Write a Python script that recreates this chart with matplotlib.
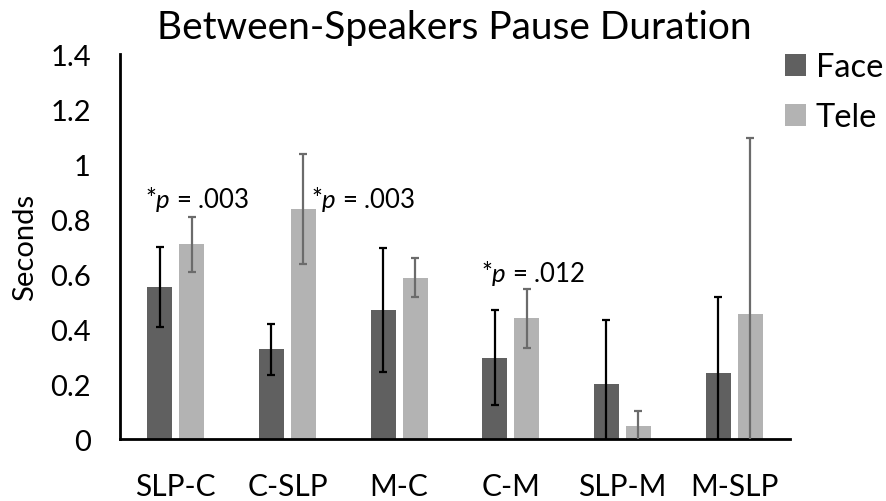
import matplotlib
matplotlib.use('Agg')
import matplotlib.pyplot as plt
import numpy as np

plt.rcParams['font.family'] = ['Lato', 'DejaVu Sans']
plt.rcParams['mathtext.fontset'] = 'custom'
plt.rcParams['mathtext.rm'] = 'Lato'
plt.rcParams['mathtext.it'] = 'Lato:italic'

# data
categories = ['SLP-C', 'C-SLP', 'M-C', 'C-M', 'SLP-M', 'M-SLP']
face = [0.552, 0.327, 0.469, 0.295, 0.200, 0.239]
face_err = [0.145, 0.093, 0.224, 0.173, 0.234, 0.279]
tele = [0.709, 0.835, 0.587, 0.439, 0.046, 0.455]
tele_err = [0.100, 0.200, 0.072, 0.107, 0.057, 0.638]
yticks = [0, 0.2, 0.4, 0.6, 0.8, 1, 1.2, 1.4]
ytick_labels = ['0', '0.2', '0.4', '0.6', '0.8', '1', '1.2', '1.4']
notes = ['*$p$ = .003', '*$p$ = .003', '*$p$ = .012']
note_pos = [(0.19, 0.873), (1.68, 0.873), (3.20, 0.607)]

face_color = '#606060'
tele_color = '#b3b3b3'

fig = plt.figure(figsize=(8.86, 5.02), dpi=100)
ax = fig.add_axes([0.1354, 0.1235, 0.7562, 0.7669])

x = np.arange(len(categories))
w = 0.224
off = 0.143

ax.bar(x - off, face, w, color=face_color, label='Face', zorder=2)
ax.bar(x + off, tele, w, color=tele_color, label='Tele', zorder=2)
ax.errorbar(x - off, face, yerr=face_err, fmt='none', ecolor='black',
            elinewidth=1.6, capsize=2.8, capthick=1.6, zorder=3)
ax.errorbar(x + off, tele, yerr=tele_err, fmt='none', ecolor='#6b6b6b',
            elinewidth=1.6, capsize=2.8, capthick=1.6, zorder=3)

for txt, (tx, ty) in zip(notes, note_pos):
    ax.text(tx, ty, txt, ha='center', va='center', fontsize=18.5, color='black')

ax.set_xlim(-0.5, 5.5)
ax.set_ylim(0, 1.4)
ax.set_xticks(x)
ax.set_xticklabels(categories, fontsize=21.5)
ax.set_yticks(yticks)
ax.set_yticklabels(ytick_labels, fontsize=21)
ax.tick_params(axis='both', length=0)
ax.tick_params(axis='y', pad=21)
ax.tick_params(axis='x', pad=24)

for s in ['top', 'right']:
    ax.spines[s].set_visible(False)
ax.spines['left'].set_linewidth(2)
ax.spines['bottom'].set_linewidth(2)

ax.set_ylabel('Seconds', fontsize=21, labelpad=9)
fig.text(0.513, 0.944, 'Between-Speakers Pause Duration', ha='center', va='center', fontsize=28)

leg = ax.legend(loc='upper left', bbox_to_anchor=(0.9925, 1.005), frameon=False,
                fontsize=23.5, handlelength=0.65, handleheight=0.65,
                handletextpad=0.3, labelspacing=0.62, borderpad=0, borderaxespad=0)

fig.savefig('out.png', dpi=100)
